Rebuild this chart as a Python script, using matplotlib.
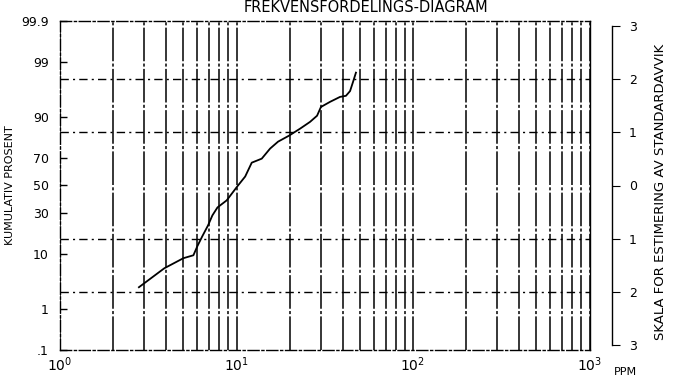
import math
import matplotlib
matplotlib.use("Agg")
import matplotlib.pyplot as plt
import numpy as np
from matplotlib.ticker import FixedLocator, NullFormatter

# values
ppm = [2.8, 3.9, 5.0, 5.7, 6.0, 6.4, 6.9, 7.3, 7.8, 8.8, 10.1, 11.2, 12.2, 13.9,
       15.5, 17.2, 19.8, 22.9, 26.1, 28.6, 30.1, 33.9, 38.6, 41.7, 44.0, 45.7, 47.5]
cum_pct = [2.8, 6.0, 8.6, 9.5, 12.7, 17.0, 22.7, 28.7, 34.0, 39.0, 49.3, 56.7, 66.6, 69.3,
           75.6, 79.5, 82.5, 85.7, 88.4, 90.5, 93.0, 94.2, 95.2, 95.4, 96.2, 97.4, 98.3]

pct_ticks = [0.1, 1, 10, 30, 50, 70, 90, 99, 99.9]
pct_labels = [".1", "1", "10", "30", "50", "70", "90", "99", "99.9"]
sd_ticks = [-3, -2, -1, 0, 1, 2, 3]
sd_labels = ["3", "2", "1", "0", "1", "2", "3"]
x_ticks = [1, 10, 100, 1000]
x_labels = [r"$10^{0}$", r"$10^{1}$", r"$10^{2}$", r"$10^{3}$"]


def norm_ppf(p):
    # bisection on the normal cdf, p in percent
    lo, hi = -8.0, 8.0
    for _ in range(80):
        mid = (lo + hi) / 2
        if 0.5 * (1 + math.erf(mid / math.sqrt(2))) * 100 < p:
            lo = mid
        else:
            hi = mid
    return (lo + hi) / 2


z_data = [norm_ppf(p) for p in cum_pct]
z_ticks = [norm_ppf(p) for p in pct_ticks]
zlim = norm_ppf(99.9)

fig = plt.figure(figsize=(6.73, 3.83), dpi=100)
L, R, B, T = 60 / 673, 589.5 / 673, 1 - 350 / 383, 1 - 21 / 383
ax = fig.add_axes([L, B, R - L, T - B])

ax.plot(ppm, z_data, color="black", lw=1.3)

ax.set_xscale("log")
ax.set_xlim(1, 1000)
ax.set_ylim(-zlim, zlim)

# vertical grid, log decades
ax.xaxis.grid(True, which="both", color="black", lw=1.1, ls=(0, (22, 1.5, 2, 1.5)))
ax.set_xticks(x_ticks)
ax.set_xticklabels(x_labels, fontsize=10)
ax.xaxis.set_minor_formatter(NullFormatter())
ax.tick_params(axis="x", which="both", length=0, pad=4)

# horizontal grid at whole standard deviations
ax.yaxis.set_minor_locator(FixedLocator([-2, -1, 0, 1, 2]))
ax.yaxis.grid(True, which="minor", color="black", lw=1.0, ls=(0, (6, 3, 1.5, 3)))
ax.set_yticks(z_ticks)
ax.set_yticklabels(pct_labels, fontsize=9)
ax.tick_params(axis="y", which="major", direction="in", length=5, width=1.0, pad=8)
ax.tick_params(axis="y", which="minor", length=0)

for s in ax.spines.values():
    s.set_linestyle((0, (8, 2, 1.5, 2)))
    s.set_linewidth(1.0)
ax.spines["right"].set_linestyle("-")

ax.set_ylabel("KUMULATIV PROSENT", fontsize=8)
ax.yaxis.set_label_coords(-45 / 529.5, 0.5)

# separate scale for standard deviation on the right
ax2 = fig.add_axes([0.85, B, 612 / 673 - 0.85, T - B])
ax2.set_ylim(-zlim, zlim)
ax2.patch.set_visible(False)
for k in ["left", "top", "bottom"]:
    ax2.spines[k].set_visible(False)
ax2.spines["right"].set_bounds(-3, 3)
ax2.spines["right"].set_linewidth(1.0)
ax2.set_xticks([])
ax2.yaxis.tick_right()
ax2.set_yticks(sd_ticks)
ax2.set_yticklabels(sd_labels, fontsize=9)
ax2.tick_params(axis="y", direction="out", length=6, pad=6)

fig.text(660 / 673, 0.5, "SKALA FOR ESTIMERING AV STANDARDAVVIK", rotation=90,
         ha="center", va="center", fontsize=9.5)
fig.text(366 / 673, 1 - 12 / 383, "FREKVENSFORDELINGS-DIAGRAM", ha="center",
         va="baseline", fontsize=10.5)
fig.text(625 / 673, 1 - 372 / 383, "PPM", ha="center", va="center", fontsize=8)

fig.savefig("out.png", dpi=100)
